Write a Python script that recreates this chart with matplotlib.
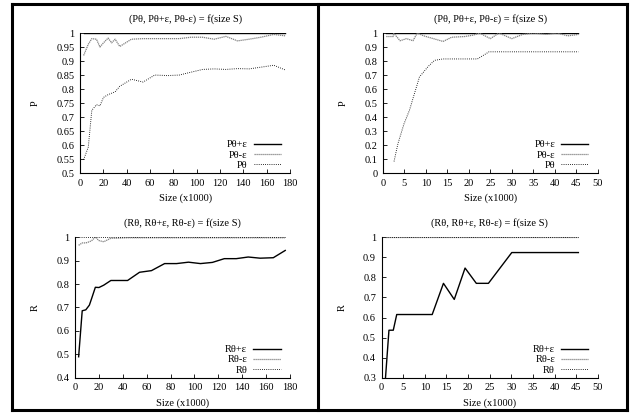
import matplotlib
matplotlib.use("Agg")
import matplotlib.pyplot as plt
from matplotlib.lines import Line2D

plt.rcParams["font.family"] = ["Liberation Serif", "DejaVu Serif"]
plt.rcParams["font.size"] = 7.5

# ---------------------------------------------------------------------------
# Data
# ---------------------------------------------------------------------------
# Top-left: precision vs size, 0..180k
tl_x = [3, 7, 10, 14, 17, 20, 24, 27, 30, 34, 44, 54, 64, 75, 85, 95,
        105, 115, 125, 135, 145, 155, 166, 176]
tl_p_plus = [1.0] * len(tl_x)
tl_p_minus = [0.92, 0.96, 0.98, 0.978, 0.95, 0.965, 0.982, 0.965, 0.978, 0.952,
              0.978, 0.98, 0.98, 0.98, 0.98, 0.985, 0.985, 0.978, 0.988, 0.972,
              0.978, 0.985, 0.995, 0.99]
tl_p = [0.548, 0.593, 0.724, 0.744, 0.74, 0.77, 0.78, 0.785, 0.79, 0.81,
        0.835, 0.825, 0.85, 0.848, 0.85, 0.86, 0.87, 0.872, 0.87, 0.873,
        0.872, 0.878, 0.885, 0.868]

# Top-right: precision vs size, 0..50k
tr_x_plus = [0.8, 45.5]
tr_p_plus = [1.0, 1.0]
tr_x_minus = [0.8, 2.4, 2.5, 4, 5.5, 7, 8, 9.5, 14, 16, 19, 21, 22.5, 25, 27,
              30, 32.5, 35, 38, 40.5, 43, 45.5]
tr_p_minus = [0.975, 0.975, 1.0, 0.945, 0.96, 0.945, 1.0, 0.98, 0.94, 0.97,
              0.975, 0.985, 1.0, 0.96, 1.0, 0.96, 0.99, 1.0, 0.99, 1.0,
              0.98, 0.99]
tr_x = [2.6, 3.5, 4.9, 6.2, 8.5, 10.5, 12, 14, 22, 24.7, 45.5]
tr_p = [0.083, 0.21, 0.35, 0.45, 0.686, 0.76, 0.805, 0.815, 0.815, 0.866, 0.866]

# Bottom-left: recall vs size, 0..180k
bl_x = [3, 6, 9, 12, 14, 17, 20, 24, 30, 34, 44, 54, 64, 75, 85, 95,
        105, 115, 125, 135, 145, 155, 166, 176]
bl_r_plus = [0.49, 0.686, 0.69, 0.71, 0.74, 0.786, 0.785, 0.795, 0.815, 0.815,
             0.815, 0.85, 0.857, 0.887, 0.887, 0.893, 0.887, 0.892, 0.908,
             0.908, 0.915, 0.91, 0.912, 0.943]
bl_r_minus = [0.965, 0.975, 0.975, 0.98, 0.985, 1.0, 0.985, 0.98, 0.995, 0.995,
              0.997, 0.997, 0.997, 0.997, 0.997, 0.997, 0.997, 0.997, 0.997,
              0.997, 0.997, 0.997, 0.997, 0.997]
bl_r = [1.0] * len(bl_x)

# Bottom-right: recall vs size, 0..50k
br_x = [0.9, 1.7, 2.7, 3.5, 11.7, 14.3, 16.8, 19.3, 21.9, 24.7, 30.1, 45.5]
br_r_plus = [0.3, 0.537, 0.537, 0.615, 0.615, 0.77, 0.69, 0.846, 0.77, 0.77,
             0.923, 0.923]
br_x_flat = [0.9, 45.5]
br_r_minus = [1.0, 1.0]
br_r = [1.0, 1.0]

P_TITLE = "(P\u03b8, P\u03b8+\u03b5, P\u03b8-\u03b5) = f(size S)"
R_TITLE = "(R\u03b8, R\u03b8+\u03b5, R\u03b8-\u03b5) = f(size S)"

# ---------------------------------------------------------------------------
# Styles
# ---------------------------------------------------------------------------
SOLID = dict(color="black", linewidth=1.0, linestyle="-")
DENSE = dict(color="0.5", linewidth=0.9, dashes=(1.0, 0.6))
SPARSE = dict(color="black", linewidth=0.7, dashes=(0.8, 1.4))


def style_axes(ax, xlim, ylim, yticks, xticks, ylabel, title):
    ax.set_xlim(*xlim)
    ax.set_ylim(*ylim)
    ax.set_xticks(xticks)
    ax.set_yticks(yticks)
    ax.set_yticklabels([f"{t:g}" for t in yticks])
    ax.spines["top"].set_visible(False)
    ax.spines["right"].set_visible(False)
    for s in ("left", "bottom"):
        ax.spines[s].set_linewidth(0.8)
    ax.tick_params(direction="in", length=3, width=0.6, labelsize=7.5, pad=4)
    ax.set_xlabel("Size (x1000)", fontsize=7.5, labelpad=4)
    ax.set_ylabel(ylabel, fontsize=7.5, labelpad=12)
    ax.set_title(title, fontsize=7.5, pad=8)
    leg = ax.legend(loc="lower right", frameon=False, markerfirst=False,
                    fontsize=7.5, handlelength=2.6, handletextpad=0.6,
                    labelspacing=0.1, borderaxespad=0.3,
                    bbox_to_anchor=(0.99, -0.03))
    for t in leg.get_texts():
        t.set_ha("right")


fig = plt.figure(figsize=(6.36, 4.13), dpi=100)

ax_tl = fig.add_axes([0.126, 0.581, 0.330, 0.339])
ax_tl.plot(tl_x, tl_p_plus, label="P\u03b8+\u03b5", **SOLID)
ax_tl.plot(tl_x, tl_p_minus, label="P\u03b8-\u03b5", **DENSE)
ax_tl.plot(tl_x, tl_p, label="P\u03b8", **SPARSE)
style_axes(ax_tl, (0, 180), (0.5, 1.0),
           [0.5, 0.55, 0.6, 0.65, 0.7, 0.75, 0.8, 0.85, 0.9, 0.95, 1.0],
           range(0, 181, 20), "P", P_TITLE)

ax_tr = fig.add_axes([0.602, 0.581, 0.338, 0.339])
ax_tr.plot(tr_x_plus, tr_p_plus, label="P\u03b8+\u03b5", **SOLID)
ax_tr.plot(tr_x_minus, tr_p_minus, label="P\u03b8-\u03b5", **DENSE)
ax_tr.plot(tr_x, tr_p, label="P\u03b8", **SPARSE)
style_axes(ax_tr, (0, 50), (0.0, 1.0),
           [0, 0.1, 0.2, 0.3, 0.4, 0.5, 0.6, 0.7, 0.8, 0.9, 1.0],
           range(0, 51, 5), "P", P_TITLE)

ax_bl = fig.add_axes([0.118, 0.085, 0.338, 0.341])
ax_bl.plot(bl_x, bl_r_plus, label="R\u03b8+\u03b5", **SOLID)
ax_bl.plot(bl_x, bl_r_minus, label="R\u03b8-\u03b5", **DENSE)
ax_bl.plot(bl_x, bl_r, label="R\u03b8", **SPARSE)
style_axes(ax_bl, (0, 180), (0.4, 1.0),
           [0.4, 0.5, 0.6, 0.7, 0.8, 0.9, 1.0],
           range(0, 181, 20), "R", R_TITLE)

ax_br = fig.add_axes([0.600, 0.085, 0.340, 0.341])
ax_br.plot(br_x, br_r_plus, label="R\u03b8+\u03b5", **SOLID)
ax_br.plot(br_x_flat, br_r_minus, label="R\u03b8-\u03b5", **DENSE)
ax_br.plot(br_x_flat, br_r, label="R\u03b8", **SPARSE)
style_axes(ax_br, (0, 50), (0.3, 1.0),
           [0.3, 0.4, 0.5, 0.6, 0.7, 0.8, 0.9, 1.0],
           range(0, 51, 5), "R", R_TITLE)

# outer frame and divider, as in the source table
W, H = 636.0, 413.0
x0, x1, xm = 12 / W, 627 / W, 318 / W
y0, y1 = 1 - 410 / H, 1 - 4 / H
for xs, ys in [((x0, x1), (y1, y1)), ((x0, x1), (y0, y0)),
               ((x0, x0), (y0, y1)), ((x1, x1), (y0, y1)),
               ((xm, xm), (y0, y1))]:
    fig.add_artist(Line2D(xs, ys, transform=fig.transFigure,
                          color="black", linewidth=2.2))

fig.savefig("out.png", dpi=100)
